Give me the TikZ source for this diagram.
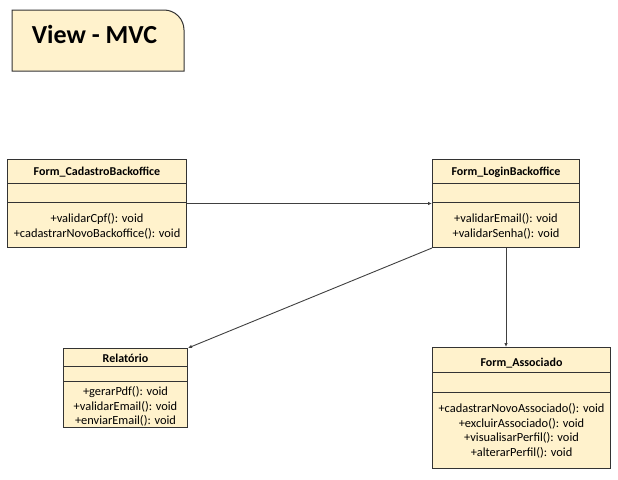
\documentclass[tikz,border=0pt]{standalone}
\usepackage{fontspec}
\setmainfont{Carlito}
\usetikzlibrary{arrows.meta,calc}
\definecolor{notefill}{HTML}{FFF2CC}
\definecolor{lineink}{HTML}{333333}
\tikzset{classbox/.style={draw=lineink,fill=notefill,line width=1pt,anchor=north west,inner sep=0pt},
  divider/.style={draw=lineink,line width=1pt},
  classname/.style={anchor=base,inner sep=0pt,font=\fontsize{12}{14}\selectfont\bfseries},
  methods/.style={align=center,inner sep=0pt,font=\fontsize{12.4}{14.5}\selectfont},
  link/.style={-{Latex[length=4pt,width=3.5pt]},draw=black!75,line width=0.9pt}}

\begin{document}
\begin{tikzpicture}[x=1pt,y=-1pt]
\useasboundingbox (0,0) rectangle (618,479);
% title note
\draw[draw=lineink,fill=notefill,line width=1pt] (12,71) -- (12,10) [rounded corners=20pt] -- (184,10) [sharp corners] -- (184,71) -- cycle;
\node[anchor=base,inner sep=0pt,font=\fontsize{26}{30}\selectfont\bfseries] (title) at (94.5,43) {View - MVC};

% classes
\node[classbox,minimum width=179pt,minimum height=88pt] (cadastro) at (7,159) {};
\draw[divider] ([yshift=-24pt]cadastro.north west) -- ([yshift=-24pt]cadastro.north east);
\draw[divider] ([yshift=-43pt]cadastro.north west) -- ([yshift=-43pt]cadastro.north east);
\node[classname] (cadastroname) at ([yshift=-16pt]cadastro.north) {Form\_CadastroBackoffice};
\node[methods] (cadastroops) at ([yshift=21.5pt]cadastro.south) {+validarCpf(): void\\+cadastrarNovoBackoffice(): void};

\node[classbox,minimum width=147pt,minimum height=88pt] (login) at (432,159) {};
\draw[divider] ([yshift=-24pt]login.north west) -- ([yshift=-24pt]login.north east);
\draw[divider] ([yshift=-43pt]login.north west) -- ([yshift=-43pt]login.north east);
\node[classname] (loginname) at ([yshift=-16pt]login.north) {Form\_LoginBackoffice};
\node[methods] (loginops) at ([yshift=21.5pt]login.south) {+validarEmail(): void\\+validarSenha(): void};

\node[classbox,minimum width=124pt,minimum height=79pt] (relatorio) at (63,348) {};
\draw[divider] ([yshift=-18pt]relatorio.north west) -- ([yshift=-18pt]relatorio.north east);
\draw[divider] ([yshift=-33pt]relatorio.north west) -- ([yshift=-33pt]relatorio.north east);
\node[classname] (relatorioname) at ([yshift=-14pt]relatorio.north) {Relatório};
\node[methods] (relatorioops) at ([yshift=21.5pt]relatorio.south) {+gerarPdf(): void\\+validarEmail(): void\\+enviarEmail(): void};

\node[classbox,minimum width=178pt,minimum height=121pt] (associado) at (432,347) {};
\draw[divider] ([yshift=-25pt]associado.north west) -- ([yshift=-25pt]associado.north east);
\draw[divider] ([yshift=-45pt]associado.north west) -- ([yshift=-45pt]associado.north east);
\node[classname] (associadoname) at ([yshift=-19pt]associado.north) {Form\_Associado};
\node[methods] (associadoops) at ([yshift=38pt]associado.south) {+cadastrarNovoAssociado(): void\\+excluirAssociado(): void\\+visualisarPerfil(): void\\+alterarPerfil(): void};

% connectors
\draw[link] (cadastro.east) -- (login.west);
\draw[link] (login.south west) -- (relatorio.north east);
\draw[link] (login.south) -- (login.south |- associado.north);
\end{tikzpicture}
\end{document}
